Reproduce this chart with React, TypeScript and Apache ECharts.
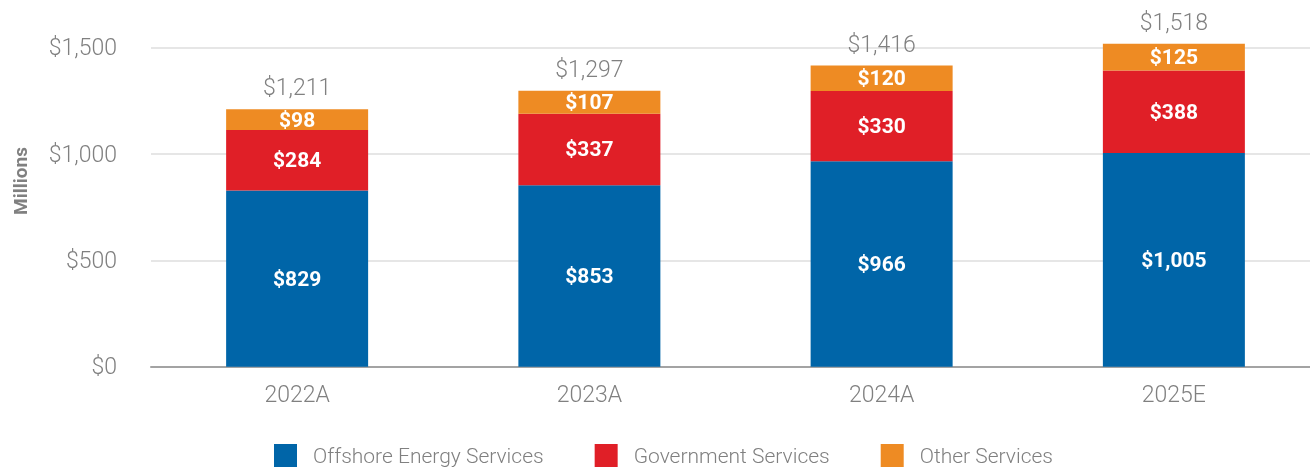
import React, { useEffect, useRef } from "react";
import * as echarts from "echarts";

const categories = ["2022A", "2023A", "2024A", "2025E"];
const offshore = [829, 853, 966, 1005];
const government = [284, 337, 330, 388];
const other = [98, 107, 120, 125];
const totals = [1211, 1297, 1416, 1518];
const yTicks = [0, 500, 1000, 1500];

const BLUE = "#0065a8";
const RED = "#e01f27";
const ORANGE = "#ee8b23";
const GRAY = "#808080";
const FONT = "Roboto";

const fmt = (v: number) => "$" + v.toLocaleString("en-US");

export default function App() {
  const ref = useRef<HTMLDivElement>(null);
  useEffect(() => {
    if (!ref.current) return;
    document.body.style.overflow = "hidden";
    const chart = echarts.init(ref.current, undefined, { renderer: "svg" });
    const insideLabel = {
      show: true,
      position: "inside",
      color: "#ffffff",
      fontFamily: FONT,
      fontWeight: "bold",
      fontSize: 21,
      formatter: (p: any) => fmt(p.value),
    };
    chart.setOption({
      animation: false,
      grid: { left: 151, top: 47.7, width: 1169, height: 319 },
      legend: {
        data: ["Offshore Energy Services", "Government Services", "Other Services"],
        left: 274,
        top: 444,
        padding: 0,
        itemWidth: 23,
        itemHeight: 23,
        itemGap: 51,
        icon: "rect",
        textStyle: {
          color: GRAY,
          fontFamily: FONT,
          fontWeight: 300,
          fontSize: 21,
          padding: [0, 0, 0, 11],
        },
      },
      graphic: [
        {
          type: "text",
          x: 20,
          y: 181,
          rotation: Math.PI / 2,
          style: {
            text: "Millions",
            fill: GRAY,
            font: `bold 19px ${FONT}`,
            textAlign: "center",
            textVerticalAlign: "middle",
          },
        },
      ],
      xAxis: {
        type: "category",
        data: categories,
        axisLine: { lineStyle: { color: "#a3a3a3", width: 2 } },
        axisTick: { show: false },
        axisLabel: {
          color: GRAY,
          fontFamily: FONT,
          fontWeight: 300,
          fontSize: 23,
          margin: 16,
        },
      },
      yAxis: {
        type: "value",
        min: yTicks[0],
        max: yTicks[yTicks.length - 1],
        interval: 500,
        axisLine: { show: false },
        axisTick: { show: false },
        splitLine: { lineStyle: { color: "#e6e6e6", width: 2 } },
        axisLabel: {
          color: GRAY,
          fontFamily: FONT,
          fontWeight: 300,
          fontSize: 23,
          margin: 34,
          formatter: (v: number) => fmt(v),
        },
      },
      series: [
        {
          name: "Offshore Energy Services",
          type: "bar",
          stack: "t",
          barWidth: 142,
          clip: false,
          data: offshore,
          itemStyle: { color: BLUE },
          label: insideLabel,
        },
        {
          name: "Government Services",
          type: "bar",
          stack: "t",
          barWidth: 142,
          clip: false,
          data: government,
          itemStyle: { color: RED },
          label: insideLabel,
        },
        {
          name: "Other Services",
          type: "bar",
          stack: "t",
          barWidth: 142,
          clip: false,
          data: other,
          itemStyle: { color: ORANGE },
          label: insideLabel,
        },
        {
          name: "Total",
          type: "bar",
          stack: "t",
          barWidth: 142,
          clip: false,
          data: totals.map(() => 0),
          itemStyle: { color: "transparent" },
          label: {
            show: true,
            position: "top",
            distance: 10,
            color: GRAY,
            fontFamily: FONT,
            fontWeight: 300,
            fontSize: 23,
            formatter: (p: any) => fmt(totals[p.dataIndex]),
          },
        },
      ],
    });
    return () => chart.dispose();
  }, []);
  return (
    <div
      ref={ref}
      style={{ position: "fixed", left: 0, top: 0, width: 1320, height: 467 }}
    />
  );
}
